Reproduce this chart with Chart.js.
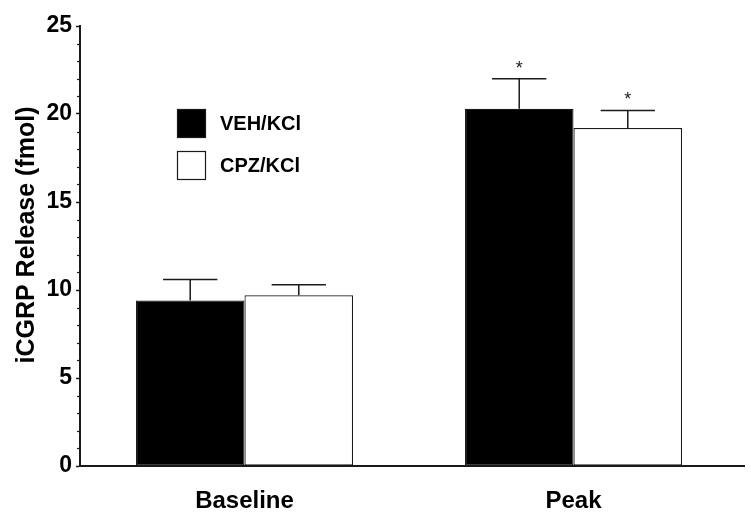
<!DOCTYPE html>
<html>
<head>
<meta charset="utf-8">
<script src="https://cdn.jsdelivr.net/npm/chart.js@4.4.0/dist/chart.umd.min.js"></script>
<style>
  html, body { margin: 0; padding: 0; background: #fff; }
</style>
</head>
<body>
<canvas id="chart" width="751" height="522"></canvas>
<script>
const categories = ['Baseline', 'Peak'];
const seriesNames = ['VEH/KCl', 'CPZ/KCl'];
const vehValues = [9.4, 20.3];
const cpzValues = [9.7, 19.2];
const vehErrors = [1.2, 1.7];
const cpzErrors = [0.6, 1.0];
const vehSignificant = [false, true];
const cpzSignificant = [false, true];
const yTicks = [0, 5, 10, 15, 20, 25];
const yMinorStep = 1;
const yTitle = 'iCGRP Release (fmol)';

const FONT = "'Liberation Sans', Arial, Helvetica, sans-serif";
const INK = '#1a1a1a';

// error bars (upper only) + significance asterisks
const errorBarPlugin = {
    id: 'errorBars',
    afterDatasetsDraw(chart) {
        const ctx = chart.ctx;
        const yScale = chart.scales.y;
        ctx.save();
        ctx.strokeStyle = INK;
        ctx.fillStyle = INK;
        ctx.lineWidth = 1.5;
        ctx.font = `18px ${FONT}`;
        ctx.textAlign = 'center';
        ctx.textBaseline = 'bottom';
        chart.data.datasets.forEach((ds, i) => {
            const meta = chart.getDatasetMeta(i);
            meta.data.forEach((bar, j) => {
                const top = yScale.getPixelForValue(ds.data[j] + ds.errors[j]);
                const half = bar.width / 4;
                ctx.beginPath();
                ctx.moveTo(bar.x, bar.y);
                ctx.lineTo(bar.x, top);
                ctx.moveTo(bar.x - half, top);
                ctx.lineTo(bar.x + half, top);
                ctx.stroke();
                if (ds.significant[j]) ctx.fillText('*', bar.x, top - 1);
            });
        });
        ctx.restore();
    }
};

// minor ticks on y, y title, longer x axis line, legend box inside plot
const decorPlugin = {
    id: 'decor',
    afterDraw(chart) {
        const ctx = chart.ctx;
        const y = chart.scales.y;
        const area = chart.chartArea;
        ctx.save();
        ctx.strokeStyle = INK;
        ctx.lineWidth = 1.2;
        for (let v = y.min; v <= y.max; v += yMinorStep) {
            if (yTicks.includes(v)) continue;
            const py = Math.round(y.getPixelForValue(v)) + 0.5;
            ctx.beginPath();
            ctx.moveTo(area.left - 3, py);
            ctx.lineTo(area.left, py);
            ctx.stroke();
        }
        // axis runs a bit past the last category
        ctx.lineWidth = 2;
        ctx.beginPath();
        ctx.moveTo(area.right - 1, area.bottom);
        ctx.lineTo(area.right + 7, area.bottom);
        ctx.stroke();

        // y axis title, sits a little above the middle of the axis
        ctx.save();
        ctx.translate(27, 235);
        ctx.rotate(-Math.PI / 2);
        ctx.font = `bold 25px ${FONT}`;
        ctx.fillStyle = '#000';
        ctx.textAlign = 'center';
        ctx.textBaseline = 'middle';
        ctx.fillText(yTitle, 0, 0);
        ctx.restore();

        // legend
        const boxX = 177, boxY = 109, box = 29, gap = 42;
        ctx.font = `bold 20px ${FONT}`;
        ctx.textAlign = 'left';
        ctx.textBaseline = 'middle';
        chart.data.datasets.forEach((ds, i) => {
            const by = boxY + i * gap;
            ctx.fillStyle = ds.backgroundColor;
            ctx.fillRect(boxX, by, box, box);
            ctx.lineWidth = 1.2;
            ctx.strokeStyle = INK;
            ctx.strokeRect(boxX + 0.5, by + 0.5, box - 1, box - 1);
            ctx.fillStyle = '#000';
            ctx.fillText(ds.label, boxX + box + 14, by + box / 2 + 1);
        });
        ctx.restore();
    }
};

new Chart(document.getElementById('chart'), {
    type: 'bar',
    data: {
        labels: categories,
        datasets: [
            {
                label: seriesNames[0],
                data: vehValues,
                errors: vehErrors,
                significant: vehSignificant,
                backgroundColor: '#000',
                borderColor: INK,
                borderWidth: 1.2,
                borderSkipped: false
            },
            {
                label: seriesNames[1],
                data: cpzValues,
                errors: cpzErrors,
                significant: cpzSignificant,
                backgroundColor: '#fff',
                borderColor: INK,
                borderWidth: 1.2,
                borderSkipped: false
            }
        ]
    },
    options: {
        responsive: false,
        animation: false,
        categoryPercentage: 0.66,
        barPercentage: 1,
        layout: { padding: { left: 0, right: 13, top: 26, bottom: 0 } },
        plugins: {
            legend: { display: false },
            tooltip: { enabled: false }
        },
        scales: {
            x: {
                afterFit: (scale) => { scale.height = 56; },
                grid: { display: false },
                border: { display: true, color: INK, width: 2 },
                ticks: { color: '#000', padding: 13, font: { family: FONT, size: 24, weight: 'bold' } }
            },
            y: {
                min: 0,
                max: 25,
                afterFit: (scale) => { scale.width = 80; },
                afterBuildTicks: (scale) => { scale.ticks = yTicks.map(v => ({ value: v })); },
                grid: { drawOnChartArea: false, drawTicks: true, tickLength: 4, color: INK, tickWidth: 1.5 },
                border: { display: true, color: INK, width: 2 },
                ticks: { color: '#000', padding: 4, font: { family: FONT, size: 23, weight: 'bold' } }
            }
        }
    },
    plugins: [errorBarPlugin, decorPlugin]
});
</script>
</body>
</html>
